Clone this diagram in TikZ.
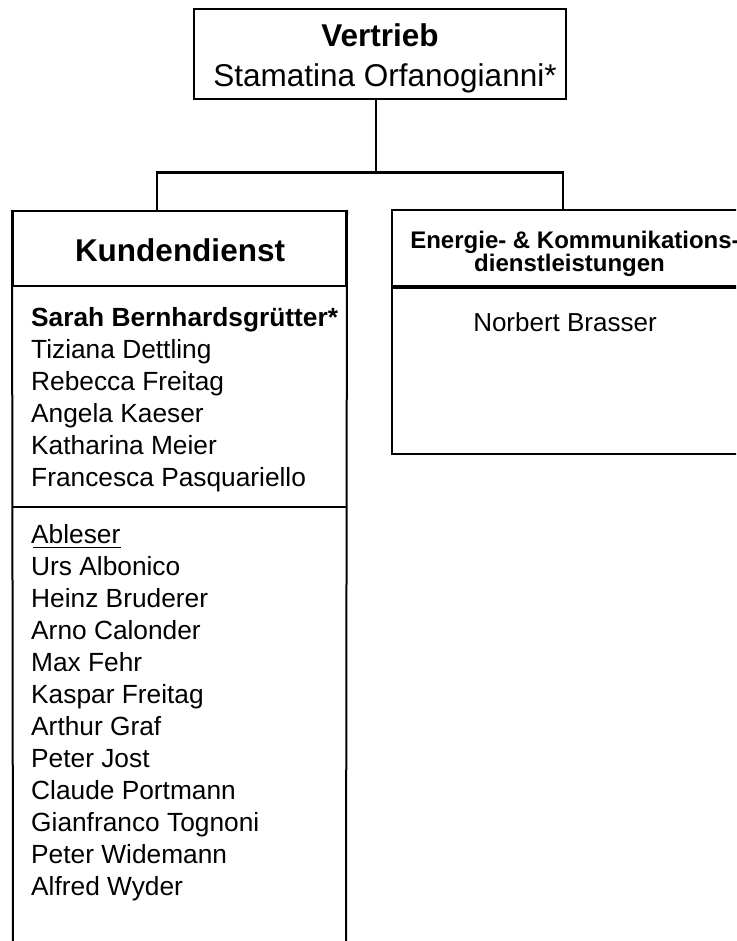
\documentclass[tikz,border=0pt]{standalone}
\usepackage{fontspec}
\setmainfont{Liberation Sans}
\begin{document}
\begin{tikzpicture}[x=1pt,y=-1pt,
  boxline/.style={draw,line width=2pt},
  hbox/.style={draw,line width=2pt,minimum width=#1,inner sep=0pt},
  conn/.style={line width=2pt},
  bus/.style={line width=3pt},
  txt/.style={inner sep=0pt,anchor=base},
  lst/.style={inner sep=0pt,anchor=base west,font=\fontsize{26.3}{32}\selectfont}]
\useasboundingbox (0,0) rectangle (736,941);
\clip (0,0) rectangle (736,941);
\fill[white] (0,0) rectangle (736,941);

% top box
\node[hbox=372pt,minimum height=90pt] (vertrieb) at (380,54) {};
\node[txt,font=\fontsize{31.5}{38}\selectfont\bfseries] (vt) at (380,47) {Vertrieb};
\node[txt,font=\fontsize{31.5}{38}\selectfont] (vn) at (385,87) {Stamatina Orfanogianni*};

% connector points
\coordinate (j) at (376,173);
\coordinate (jl) at (157,173);
\coordinate (jr) at (563,173);

% left box header
\node[hbox=333pt,minimum height=75pt] (kdhead) at (179.5,248.5) {};
\node[txt,font=\fontsize{31.5}{38}\selectfont\bfseries] (kdt) at (180,261) {Kundendienst};
% left box body
\draw[boxline] (kdhead.north west) -- (13,950);
\draw[boxline] (kdhead.north east) -- (346,950);
\draw[boxline] (13,507) -- (346,507);

% right box
\node[hbox=360pt,minimum height=76pt] (ekhead) at (572,248) {};
\node[draw,line width=2pt,minimum width=360pt,minimum height=166pt,inner sep=0pt,anchor=north] (ekbody) at (ekhead.south) {};
\node[txt,font=\fontsize{24}{28}\selectfont\bfseries] (ek1) at (575,248) {Energie- \& Kommunikations-};
\node[txt,font=\fontsize{24}{28}\selectfont\bfseries] (ek2) at (569.5,271) {dienstleistungen};
\node[txt,font=\fontsize{26}{32}\selectfont] (nb) at (565,331) {Norbert Brasser};

\draw[conn] (vertrieb.south -| j) -- (j);
\draw[bus] ([xshift=-1pt]jl) -- ([xshift=1pt]jr);
\draw[conn] (jl) -- (jl |- kdhead.north);
\draw[conn] (jr) -- (jr |- ekhead.north);

% left list, first section
\node[lst,font=\fontsize{26.3}{32}\selectfont\bfseries] (p1) at (31,326) {Sarah Bernhardsgrütter*};
\node[lst] (p2) at (31,358) {Tiziana Dettling};
\node[lst] (p3) at (31,390) {Rebecca Freitag};
\node[lst] (p4) at (31,422) {Angela Kaeser};
\node[lst] (p5) at (31,454) {Katharina Meier};
\node[lst] (p6) at (31,486) {Francesca Pasquariello};

% second section
\node[lst] (a0) at (31,543) {Ableser};
\draw[line width=1.5pt] (32.5,547.5) -- (a0.base east |- 0,547.5);
\node[lst] (a1) at (31,575) {Urs Albonico};
\node[lst] (a2) at (31,607) {Heinz Bruderer};
\node[lst] (a3) at (31,639) {Arno Calonder};
\node[lst] (a4) at (31,671) {Max Fehr};
\node[lst] (a5) at (31,703) {Kaspar Freitag};
\node[lst] (a6) at (31,735) {Arthur Graf};
\node[lst] (a7) at (31,767) {Peter Jost};
\node[lst] (a8) at (31,799) {Claude Portmann};
\node[lst] (a9) at (31,831) {Gianfranco Tognoni};
\node[lst] (a10) at (31,863) {Peter Widemann};
\node[lst] (a11) at (31,895) {Alfred Wyder};
\end{tikzpicture}
\end{document}
